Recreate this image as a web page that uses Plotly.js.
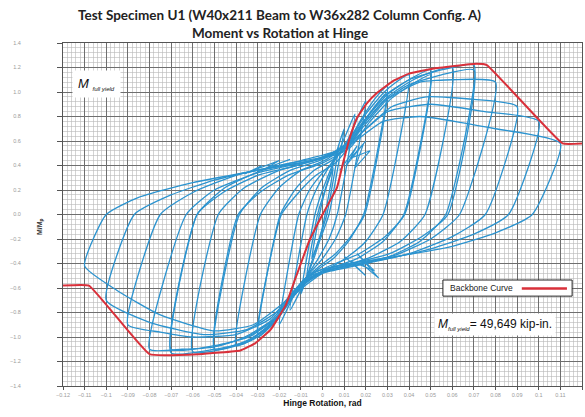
<!DOCTYPE html>
<html><head><meta charset="utf-8">
<script src="https://cdn.plot.ly/plotly-3.0.1.min.js"></script>
<style>html,body{margin:0;padding:0;background:#fff}#chart{width:585px;height:417px}</style>
</head><body><div id="chart"></div>
<script>
// Backbone curve (M/Mp vs hinge rotation)
const backboneX = [-0.12, -0.108, -0.08, -0.057, -0.038, -0.031, -0.024, -0.017, -0.0127, -0.006, 0, 0.0067, 0.0095, 0.0127, 0.016, 0.0206, 0.025, 0.0327, 0.040, 0.051, 0.071, 0.076, 0.111, 0.12];
const backboneY = [-0.58, -0.58, -1.14, -1.14, -1.11, -1.05, -0.94, -0.74, -0.53, -0.21, 0, 0.22, 0.42, 0.63, 0.79, 0.91, 0.99, 1.09, 1.15, 1.19, 1.23, 1.22, 0.58, 0.58];

// Hysteresis loops, one per rotation amplitude (plus repeated cycles)
const loopA_x = [-0.0014, 0.001, 0.005, 0.0012, -0.001, -0.005, -0.0014];
const loopA_y = [0, 0.18, 0.38, 0, -0.17, -0.36, 0];
const loopB_x = [-0.0023, 0.0015, 0.0045, 0.0075, 0.002, -0.0015, -0.0045, -0.0075, -0.0023];
const loopB_y = [0, 0.22, 0.38, 0.55, 0, -0.2, -0.36, -0.52, 0];
const loopC_x = [-0.0035, 0.0, 0.004, 0.007, 0.01, 0.003, -0.001, -0.004, -0.007, -0.01, -0.0035];
const loopC_y = [0, 0.2, 0.38, 0.54, 0.7, 0, -0.2, -0.36, -0.5, -0.65, 0];
const loopD_x = [-0.0072, -0.003, 0.002, 0.007, 0.011, 0.015, 0.0068, 0.003, -0.002, -0.007, -0.011, -0.015, -0.0072];
const loopD_y = [0, 0.2, 0.36, 0.5, 0.66, 0.82, 0, -0.2, -0.36, -0.5, -0.65, -0.78, 0];
const loopE_x = [-0.011, -0.006, 0.0, 0.006, 0.012, 0.016, 0.02, 0.0107, 0.006, 0.0, -0.006, -0.012, -0.016, -0.02, -0.011];
const loopE_y = [0, 0.2, 0.34, 0.45, 0.62, 0.78, 0.93, 0, -0.2, -0.36, -0.48, -0.62, -0.76, -0.9, 0];
const loopF_x = [-0.0195, -0.012, -0.004, 0.005, 0.012, 0.018, 0.024, 0.03, 0.019, 0.012, 0.005, -0.003, -0.012, -0.019, -0.025, -0.03, -0.0195];
const loopF_y = [0, 0.22, 0.36, 0.45, 0.6, 0.78, 0.94, 1.05, 0, -0.22, -0.36, -0.46, -0.62, -0.8, -0.93, -1.0, 0];
const loopF2_x = [-0.019, -0.011, -0.003, 0.006, 0.013, 0.019, 0.025, 0.03, 0.0195, 0.013, 0.006, -0.002, -0.011, -0.018, -0.024, -0.03, -0.019];
const loopF2_y = [0, 0.18, 0.32, 0.42, 0.57, 0.75, 0.9, 1.0, 0, -0.18, -0.32, -0.43, -0.58, -0.76, -0.89, -0.97, 0];
const loopG_x = [-0.0287, -0.02, -0.01, 0.002, 0.012, 0.02, 0.028, 0.034, 0.04, 0.028, 0.02, 0.012, 0.004, -0.006, -0.015, -0.022, -0.03, -0.04, -0.0287];
const loopG_y = [0, 0.22, 0.36, 0.45, 0.6, 0.82, 0.99, 1.08, 1.14, 0, -0.22, -0.34, -0.43, -0.52, -0.7, -0.88, -1.0, -1.07, 0];
const loopH_x = [-0.0384, -0.028, -0.015, 0.0, 0.012, 0.02, 0.03, 0.04, 0.05, 0.0376, 0.028, 0.016, 0.005, -0.006, -0.015, -0.024, -0.035, -0.05, -0.0384];
const loopH_y = [0, 0.22, 0.36, 0.45, 0.58, 0.78, 0.98, 1.1, 1.18, 0, -0.22, -0.36, -0.43, -0.52, -0.7, -0.9, -1.03, -1.1, 0];
const loopH2_x = [-0.039, -0.029, -0.016, 0.0, 0.013, 0.022, 0.032, 0.042, 0.05, 0.038, 0.029, 0.017, 0.006, -0.005, -0.014, -0.024, -0.036, -0.05, -0.039];
const loopH2_y = [0, 0.18, 0.32, 0.42, 0.55, 0.76, 0.95, 1.07, 1.14, 0, -0.18, -0.32, -0.4, -0.49, -0.66, -0.87, -1.0, -1.07, 0];
const loopI_x = [-0.0482, -0.036, -0.02, -0.004, 0.01, 0.02, 0.03, 0.042, 0.06, 0.0474, 0.036, 0.022, 0.01, -0.004, -0.014, -0.024, -0.036, -0.06, -0.0482];
const loopI_y = [0, 0.22, 0.36, 0.44, 0.55, 0.76, 0.96, 1.1, 1.2, 0, -0.22, -0.35, -0.42, -0.5, -0.68, -0.9, -1.05, -1.12, 0];
const loopJ_x = [-0.058, -0.045, -0.028, -0.01, 0.008, 0.018, 0.028, 0.04, 0.055, 0.07, 0.057, 0.045, 0.03, 0.015, 0.0, -0.012, -0.022, -0.035, -0.05, -0.07, -0.058];
const loopJ_y = [0, 0.22, 0.36, 0.44, 0.53, 0.74, 0.96, 1.1, 1.18, 1.22, 0, -0.22, -0.35, -0.42, -0.48, -0.64, -0.88, -1.04, -1.1, -1.13, 0];
const loopJ2_x = [-0.058, -0.046, -0.03, -0.012, 0.006, 0.017, 0.028, 0.04, 0.055, 0.07, 0.058, 0.046, 0.031, 0.016, 0.001, -0.011, -0.021, -0.034, -0.05, -0.07, -0.058];
const loopJ2_y = [0, 0.18, 0.32, 0.4, 0.5, 0.7, 0.92, 1.06, 1.14, 1.18, 0, -0.18, -0.32, -0.39, -0.45, -0.6, -0.84, -1.0, -1.07, -1.1, 0];
const loopK_x = [-0.063, -0.05, -0.03, -0.01, 0.008, 0.02, 0.03, 0.045, 0.06, 0.08, 0.0634, 0.05, 0.034, 0.017, 0.0, -0.012, -0.022, -0.035, -0.05, -0.065, -0.08, -0.063];
const loopK_y = [0, 0.2, 0.34, 0.42, 0.5, 0.74, 0.94, 1.08, 1.1, 1.08, 0, -0.2, -0.33, -0.4, -0.47, -0.62, -0.85, -1.0, -1.08, -1.1, -1.1, 0];
const loopL_x = [-0.075, -0.06, -0.04, -0.015, 0.008, 0.02, 0.032, 0.048, 0.07, 0.09, 0.0753, 0.06, 0.04, 0.02, 0.002, -0.012, -0.024, -0.04, -0.06, -0.075, -0.09, -0.075];
const loopL_y = [0, 0.18, 0.32, 0.42, 0.5, 0.7, 0.88, 0.96, 0.94, 0.88, 0, -0.18, -0.32, -0.4, -0.46, -0.6, -0.85, -0.98, -1.0, -0.96, -0.9, 0];
const loopM_x = [-0.087, -0.07, -0.05, -0.025, 0.0, 0.015, 0.03, 0.05, 0.075, 0.1, 0.086, 0.07, 0.05, 0.03, 0.01, -0.008, -0.02, -0.035, -0.055, -0.08, -0.1, -0.087];
const loopM_y = [0, 0.16, 0.28, 0.38, 0.46, 0.62, 0.84, 0.9, 0.84, 0.76, 0, -0.16, -0.28, -0.36, -0.42, -0.52, -0.78, -0.94, -0.98, -0.88, -0.7, 0];
const loopN_x = [-0.1, -0.085, -0.06, -0.03, -0.005, 0.012, 0.028, 0.045, 0.08, 0.11, 0.097, 0.08, 0.06, 0.035, 0.012, -0.005, -0.018, -0.032, -0.05, -0.075, -0.095, -0.11, -0.1];
const loopN_y = [0, 0.14, 0.26, 0.36, 0.44, 0.56, 0.76, 0.8, 0.7, 0.58, 0, -0.15, -0.26, -0.34, -0.4, -0.48, -0.72, -0.9, -0.95, -0.82, -0.62, -0.42, 0];

// Jagged spikes seen in the pinched regions
const spikeP_x = [0.008, 0.016, 0.011, 0.02, 0.013, 0.022, 0.015, 0.019];
const spikeP_y = [0.36, 0.56, 0.4, 0.6, 0.46, 0.52, 0.38, 0.58];
const spikeN_x = [0.01, 0.02, 0.013, 0.024, 0.016, 0.026, 0.018];
const spikeN_y = [-0.34, -0.5, -0.38, -0.46, -0.32, -0.52, -0.4];
const spikeL_x = [-0.036, -0.028, -0.032, -0.02, -0.026, -0.015];
const spikeL_y = [0.33, 0.4, 0.36, 0.44, 0.38, 0.45];

const loops = [
  [loopA_x, loopA_y], [loopB_x, loopB_y], [loopC_x, loopC_y], [loopD_x, loopD_y],
  [loopE_x, loopE_y], [loopF_x, loopF_y], [loopF2_x, loopF2_y], [loopG_x, loopG_y],
  [loopH_x, loopH_y], [loopH2_x, loopH2_y], [loopI_x, loopI_y], [loopJ_x, loopJ_y],
  [loopJ2_x, loopJ2_y], [loopK_x, loopK_y], [loopL_x, loopL_y], [loopM_x, loopM_y],
  [loopN_x, loopN_y]
];
const spikes = [[spikeP_x, spikeP_y], [spikeN_x, spikeN_y], [spikeL_x, spikeL_y]];

const blue = '#2b93cf';
const traces = loops.map(([x, y]) => ({
  x: x, y: y, type: 'scatter', mode: 'lines', showlegend: false,
  line: {color: blue, width: 1.3, shape: 'spline', smoothing: 0.5},
  hoverinfo: 'skip'
})).concat(spikes.map(([x, y]) => ({
  x: x, y: y, type: 'scatter', mode: 'lines', showlegend: false,
  line: {color: blue, width: 1.1}, hoverinfo: 'skip'
})));
traces.push({
  x: backboneX, y: backboneY, type: 'scatter', mode: 'lines', name: 'Backbone Curve',
  showlegend: false, line: {color: '#d9303a', width: 2, shape: 'spline', smoothing: 0.3}
});

const gridMajor = '#6e6e6e', gridMinor = '#b8b8b8';
const titleFont = {family: 'Lato, "Open Sans", sans-serif', size: 13.5, color: '#222'};
const layout = {
  width: 585, height: 417,
  margin: {l: 63, r: 3, t: 43, b: 31},
  paper_bgcolor: '#ffffff', plot_bgcolor: '#ffffff',
  xaxis: {
    range: [-0.12, 0.12], dtick: 0.01, tick0: 0,
    showgrid: true, gridcolor: gridMajor, gridwidth: 1, zeroline: false,
    showline: true, linecolor: '#555', mirror: true,
    ticks: 'outside', ticklen: 3, tickcolor: '#555',
    tickfont: {family: 'Arial', size: 5.5, color: '#9a9a9a'},
    minor: {dtick: 0.002, showgrid: true, gridcolor: gridMinor, gridwidth: 0.6},
    title: {text: '<b>Hinge Rotation, rad</b>', font: {family: 'Arial', size: 8.5, color: '#111'}, standoff: 3}
  },
  yaxis: {
    range: [-1.4, 1.4], dtick: 0.2, tick0: 0, tickformat: '.1f',
    showgrid: true, gridcolor: gridMajor, gridwidth: 1, zeroline: false,
    showline: true, linecolor: '#555', mirror: true,
    ticks: 'outside', ticklen: 5, tickcolor: '#555', ticklabelstandoff: 35,
    tickfont: {family: 'Arial', size: 5.5, color: '#9a9a9a'},
    minor: {dtick: 0.04, showgrid: true, gridcolor: gridMinor, gridwidth: 0.6}
  },
  shapes: [
    {type: 'rect', xref: 'paper', yref: 'paper', x0: 0.732, x1: 0.981, y0: 0.262, y1: 0.309,
     fillcolor: '#ffffff', line: {color: '#222', width: 1}},
    {type: 'line', xref: 'paper', yref: 'paper', x0: 0.884, x1: 0.971, y0: 0.284, y1: 0.284,
     line: {color: '#d9303a', width: 2.5}}
  ],
  annotations: [
    {xref: 'paper', yref: 'paper', x: 0.418, y: 1.081, yanchor: 'middle', showarrow: false,
     text: '<b>Test Specimen U1 (W40x211 Beam to W36x282 Column Config. A)</b>', font: titleFont},
    {xref: 'paper', yref: 'paper', x: 0.418, y: 1.029, yanchor: 'middle', showarrow: false,
     text: '<b>Moment vs Rotation at Hinge</b>', font: titleFont},
    {xref: 'paper', yref: 'paper', x: -0.056, y: 0.466, text: '<b>M/M<sub>p</sub></b>', textangle: -90,
     showarrow: false, font: {family: 'Arial', size: 7, color: '#333'}},
    {xref: 'paper', yref: 'paper', x: 0.742, y: 0.286, xanchor: 'left', yanchor: 'middle',
     text: 'Backbone Curve', showarrow: false, font: {family: 'Arial', size: 8.5, color: '#222'}},
    {xref: 'paper', yref: 'paper', x: 0.715, y: 0.178, xanchor: 'left', yanchor: 'middle',
     text: '<i>M</i><sub><i><span style="font-size:6px">full yield</span></i></sub>= 49,649 kip-in.',
     showarrow: false, bgcolor: '#ffffff', borderpad: 3,
     font: {family: 'Arial', size: 12, color: '#111'}},
    {xref: 'paper', yref: 'paper', x: 0.018, y: 0.88, xanchor: 'left', yanchor: 'middle',
     text: '<i>M</i> <sub><i><span style="font-size:6px">full yield</span></i></sub>',
     showarrow: false, bgcolor: '#ffffff', borderpad: 5,
     font: {family: 'Arial', size: 13, color: '#111'}}
  ]
};
Plotly.newPlot('chart', traces, layout, {displayModeBar: false, staticPlot: true});
</script>
</body></html>
